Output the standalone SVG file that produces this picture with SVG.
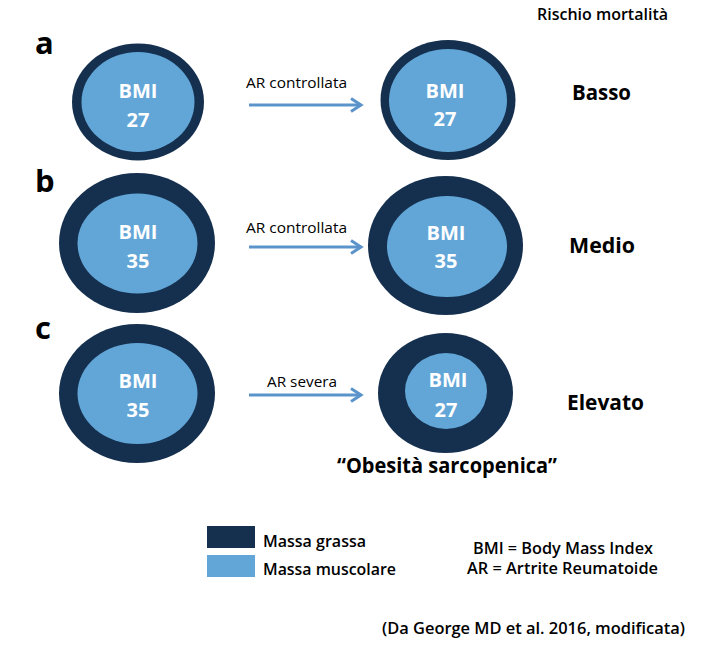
<svg xmlns="http://www.w3.org/2000/svg" width="716" height="662" viewBox="0 0 716 662">
<style>
.fat{fill:#15304e}
.mus{fill:#62a6d8}
.bmi{font-family:"Open Sans","Noto Sans",sans-serif;font-weight:700;font-size:20px;fill:#ffffff;text-anchor:middle}
.lbl{font-family:"Open Sans","Noto Sans",sans-serif;font-size:14px;fill:#000}
.let{font-family:"Open Sans","Noto Sans",sans-serif;font-weight:700;font-size:31px;fill:#000}
.risk{font-family:"Open Sans","Noto Sans",sans-serif;font-weight:700;font-size:22px;fill:#000}
.txt{font-family:"Open Sans","Noto Sans",sans-serif;font-weight:600;font-size:16px;fill:#000}
.conn{stroke:#5b93cb;stroke-width:3;fill:none}
</style>
<defs>
<marker id="ah" markerUnits="userSpaceOnUse" markerWidth="16" markerHeight="16" refX="12" refY="8" orient="auto">
<path d="M2,1.5 L12,8 L2,14.5" fill="none" stroke="#5b93cb" stroke-width="3"/>
</marker>
</defs>
<rect width="716" height="662" fill="#fff"/>

<text class="txt" x="537" y="20" font-size="15" textLength="131" lengthAdjust="spacingAndGlyphs">Rischio mortalità</text>

<text class="let" x="35" y="54">a</text>
<text class="let" x="35" y="192">b</text>
<text class="let" x="35" y="339">c</text>

<g id="a-left">
<ellipse class="fat" cx="138" cy="102" rx="66" ry="58.5"/>
<ellipse class="mus" cx="138" cy="102" rx="56.5" ry="50"/>
<text class="bmi" x="138" y="98" textLength="39" lengthAdjust="spacingAndGlyphs">BMI</text>
<text class="bmi" x="138" y="127">27</text>
</g>
<g id="a-right">
<ellipse class="fat" cx="448" cy="100" rx="67.5" ry="60"/>
<ellipse class="mus" cx="448" cy="100.5" rx="59" ry="51.5"/>
<text class="bmi" x="445" y="98" textLength="39" lengthAdjust="spacingAndGlyphs">BMI</text>
<text class="bmi" x="445" y="126">27</text>
</g>
<text class="risk" x="572" y="100" textLength="59" lengthAdjust="spacingAndGlyphs">Basso</text>

<g id="b-left">
<ellipse class="fat" cx="137" cy="243" rx="78" ry="70"/>
<ellipse class="mus" cx="137.5" cy="243.5" rx="60" ry="50"/>
<text class="bmi" x="138" y="239" textLength="39" lengthAdjust="spacingAndGlyphs">BMI</text>
<text class="bmi" x="138" y="268">35</text>
</g>
<g id="b-right">
<ellipse class="fat" cx="445.5" cy="245.5" rx="77.5" ry="69.5"/>
<ellipse class="mus" cx="447" cy="246.5" rx="60" ry="50.5"/>
<text class="bmi" x="446" y="240" textLength="39" lengthAdjust="spacingAndGlyphs">BMI</text>
<text class="bmi" x="446" y="268">35</text>
</g>
<text class="risk" x="569" y="253" textLength="66" lengthAdjust="spacingAndGlyphs">Medio</text>

<g id="c-left">
<ellipse class="fat" cx="137" cy="393.5" rx="78" ry="69.5"/>
<ellipse class="mus" cx="137.5" cy="393.5" rx="60" ry="50.5"/>
<text class="bmi" x="138" y="388" textLength="39" lengthAdjust="spacingAndGlyphs">BMI</text>
<text class="bmi" x="138" y="417">35</text>
</g>
<g id="c-right">
<ellipse class="fat" cx="445.5" cy="393" rx="67.5" ry="60"/>
<ellipse class="mus" cx="446" cy="391" rx="41" ry="38"/>
<text class="bmi" x="448" y="387" textLength="39" lengthAdjust="spacingAndGlyphs">BMI</text>
<text class="bmi" x="446" y="417">27</text>
</g>
<text class="risk" x="567" y="410" textLength="77" lengthAdjust="spacingAndGlyphs">Elevato</text>
<text class="risk" x="337" y="473" font-size="21" font-weight="600" textLength="220" lengthAdjust="spacingAndGlyphs">“Obesità sarcopenica”</text>

<g id="connectors">
<line class="conn" x1="249" y1="105" x2="361" y2="105" marker-end="url(#ah)"/>
<line class="conn" x1="249" y1="247" x2="361" y2="247" marker-end="url(#ah)"/>
<line class="conn" x1="249" y1="395" x2="361" y2="395" marker-end="url(#ah)"/>
<text class="lbl" x="246" y="88" textLength="101" lengthAdjust="spacingAndGlyphs">AR controllata</text>
<text class="lbl" x="246" y="233" textLength="101" lengthAdjust="spacingAndGlyphs">AR controllata</text>
<text class="lbl" x="267" y="387" textLength="70" lengthAdjust="spacingAndGlyphs">AR severa</text>
</g>

<g id="legend">
<rect class="fat" x="207" y="526" width="48" height="22"/>
<rect class="mus" x="207" y="555" width="48" height="22"/>
<text class="txt" x="263" y="547" font-size="15" textLength="103" lengthAdjust="spacingAndGlyphs">Massa grassa</text>
<text class="txt" x="263" y="575" font-size="15" textLength="133" lengthAdjust="spacingAndGlyphs">Massa muscolare</text>
<text class="txt" x="473" y="554" font-size="15" textLength="180" lengthAdjust="spacingAndGlyphs">BMI = Body Mass Index</text>
<text class="txt" x="467" y="574" font-size="15" textLength="191" lengthAdjust="spacingAndGlyphs">AR = Artrite Reumatoide</text>
</g>
<text class="txt" x="382" y="634" font-size="15" textLength="303" lengthAdjust="spacingAndGlyphs">(Da George MD et al. 2016, modificata)</text>
</svg>
